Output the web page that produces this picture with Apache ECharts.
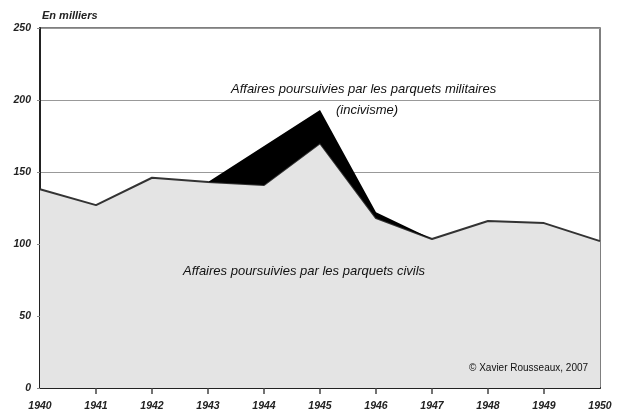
<!DOCTYPE html>
<html>
<head>
<meta charset="utf-8">
<script src="https://cdn.jsdelivr.net/npm/echarts@6/dist/echarts.min.js"></script>
<style>
  html, body { margin: 0; padding: 0; background: #fff; }
  #chart { width: 624px; height: 414px; }
</style>
</head>
<body>
<div id="chart"></div>
<script>
// années
var years = ['1940', '1941', '1942', '1943', '1944', '1945', '1946', '1947', '1948', '1949', '1950']
// affaires civiles (en milliers)
var civils = [138, 127, 146, 143, 141, 170, 118, 103.5, 116, 114.5, 102]
// surplus des parquets militaires (incivisme)
var militaires = [0, 0, 0, 0, 27, 23, 4, 0, 0, 0, 0]

var font = '"Liberation Sans", Arial, sans-serif'
var lastIdx = years.length - 1

var chart = echarts.init(document.getElementById('chart'))
chart.setOption({
  animation: false,
  grid: {
    left: 40,
    right: 24,
    top: 28,
    bottom: 26,
    show: true,
    borderColor: '#555',
    borderWidth: 1.5
  },
  xAxis: {
    type: 'category',
    data: years,
    boundaryGap: false,
    axisLine: { lineStyle: { color: '#222', width: 2 } },
    axisTick: {
      length: 6,
      lineStyle: { color: '#444', width: 1.5 },
      interval: function (i) { return i > 0 && i < lastIdx }
    },
    axisLabel: {
      margin: 13,
      fontFamily: font,
      fontStyle: 'italic',
      fontWeight: 'bold',
      fontSize: 10.5,
      color: '#222',
      interval: 0
    },
    splitLine: { show: false }
  },
  yAxis: {
    type: 'value',
    min: 0,
    max: 250,
    interval: 50,
    axisLine: { show: true, lineStyle: { color: '#222', width: 2 } },
    axisTick: { show: true, length: 3, lineStyle: { color: '#888' } },
    axisLabel: {
      margin: 9,
      fontFamily: font,
      fontStyle: 'italic',
      fontWeight: 'bold',
      fontSize: 10.5,
      color: '#222'
    },
    splitLine: { lineStyle: { color: '#999', width: 1 } }
  },
  series: [
    {
      name: 'Affaires poursuivies par les parquets civils',
      type: 'line',
      stack: 'total',
      data: civils,
      symbol: 'none',
      lineStyle: { color: '#333', width: 2 },
      areaStyle: { color: '#e4e4e4', opacity: 1 },
      z: 2
    },
    {
      name: 'Affaires poursuivies par les parquets militaires',
      type: 'line',
      stack: 'total',
      data: militaires,
      symbol: 'none',
      lineStyle: { width: 0 },
      areaStyle: { color: '#000', opacity: 1 },
      z: 3
    }
  ],
  graphic: [
    {
      type: 'text', left: 42, top: 10, z: 100,
      style: { text: 'En milliers', font: 'italic bold 11px ' + font, fill: '#222' }
    },
    {
      type: 'text', left: 231, top: 83, z: 100,
      style: { text: 'Affaires poursuivies par les parquets militaires', font: 'italic 13px ' + font, fill: '#111' }
    },
    {
      type: 'text', left: 336, top: 104, z: 100,
      style: { text: '(incivisme)', font: 'italic 13px ' + font, fill: '#111' }
    },
    {
      type: 'text', left: 183, top: 265, z: 100,
      style: { text: 'Affaires poursuivies par les parquets civils', font: 'italic 13px ' + font, fill: '#111' }
    },
    {
      type: 'text', left: 469, top: 363, z: 100,
      style: { text: '\u00a9 Xavier Rousseaux, 2007', font: '10px ' + font, fill: '#111' }
    }
  ]
})
</script>
</body>
</html>
